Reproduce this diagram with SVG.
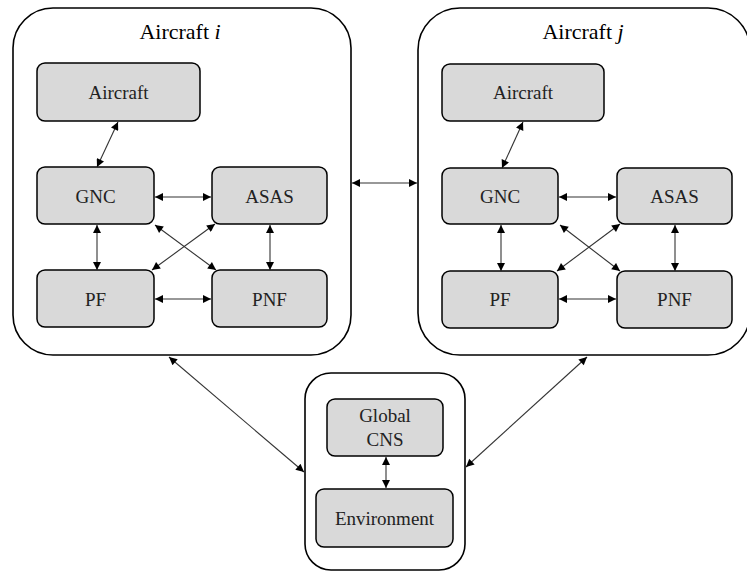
<svg xmlns="http://www.w3.org/2000/svg" width="747" height="572" viewBox="0 0 747 572">
<style>
.outer{fill:#fff;stroke:#000;stroke-width:1.6}
.box{fill:#d9d9d9;stroke:#000;stroke-width:1.5}
.lbl{font-size:19px;fill:#222;text-anchor:middle}
.ttl{font-size:22px;fill:#000;text-anchor:middle}
.c{stroke:#333;stroke-width:1.1;fill:none;marker-start:url(#ah);marker-end:url(#ah)}
</style>
<defs>
<marker id="ah" viewBox="0 0 10 10" refX="10" refY="5" markerWidth="10" markerHeight="8" markerUnits="userSpaceOnUse" orient="auto-start-reverse">
<path d="M0,0 L10,5 L0,10 z" fill="#000"/>
</marker>
</defs>
<rect width="747" height="572" fill="#fff"/>
<g font-family="'Liberation Serif', 'Times New Roman', 'DejaVu Serif', serif">
<g id="aircraft-i">
<rect class="outer" x="13" y="8" width="338" height="347" rx="40"/>
<text class="ttl" x="180" y="39">Aircraft <tspan font-style="italic">i</tspan></text>
</g>
<g id="aircraft-j">
<rect class="outer" x="418" y="8" width="332" height="347" rx="42"/>
<text class="ttl" x="583" y="39">Aircraft <tspan font-style="italic">j</tspan></text>
</g>
<g id="global">
<rect class="outer" x="305" y="373" width="160" height="197" rx="26"/>
</g>
<g id="i-aircraft"><rect class="box" x="37" y="63" width="163" height="58" rx="8"/><text class="lbl" x="118.5" y="99">Aircraft</text></g>
<g id="i-gnc"><rect class="box" x="37" y="167" width="117" height="57" rx="8"/><text class="lbl" x="95.5" y="203">GNC</text></g>
<g id="i-asas"><rect class="box" x="212" y="167" width="115" height="57" rx="8"/><text class="lbl" x="269.5" y="203">ASAS</text></g>
<g id="i-pf"><rect class="box" x="37" y="270" width="117" height="57" rx="8"/><text class="lbl" x="95.5" y="306">PF</text></g>
<g id="i-pnf"><rect class="box" x="212" y="270" width="115" height="57" rx="8"/><text class="lbl" x="269.5" y="306">PNF</text></g>
<g id="j-aircraft"><rect class="box" x="442" y="64" width="162" height="57" rx="8"/><text class="lbl" x="523" y="99">Aircraft</text></g>
<g id="j-gnc"><rect class="box" x="442" y="168" width="116" height="56" rx="8"/><text class="lbl" x="500" y="203">GNC</text></g>
<g id="j-asas"><rect class="box" x="617" y="168" width="115" height="56" rx="8"/><text class="lbl" x="674.5" y="203">ASAS</text></g>
<g id="j-pf"><rect class="box" x="442" y="271" width="116" height="57" rx="8"/><text class="lbl" x="500" y="306">PF</text></g>
<g id="j-pnf"><rect class="box" x="617" y="271" width="115" height="57" rx="8"/><text class="lbl" x="674.5" y="306">PNF</text></g>
<g id="global-cns"><rect class="box" x="327" y="399" width="116" height="57" rx="8"/><text class="lbl" x="385" y="422">Global</text><text class="lbl" x="385" y="446">CNS</text></g>
<g id="environment"><rect class="box" x="316" y="489" width="137" height="58" rx="8"/><text class="lbl" x="384.5" y="525">Environment</text></g>
</g>
<g id="connectors">
<line class="c" x1="118" y1="122" x2="97" y2="167"/>
<line class="c" x1="155" y1="197" x2="211" y2="197"/>
<line class="c" x1="97" y1="225" x2="97" y2="270"/>
<line class="c" x1="270" y1="225" x2="270" y2="270"/>
<line class="c" x1="155" y1="299" x2="211" y2="299"/>
<line class="c" x1="155" y1="225" x2="216" y2="270"/>
<line class="c" x1="215" y1="224" x2="152" y2="270"/>
<line class="c" x1="523" y1="122" x2="502" y2="168"/>
<line class="c" x1="559" y1="197" x2="616" y2="197"/>
<line class="c" x1="501" y1="225" x2="501" y2="271"/>
<line class="c" x1="675" y1="225" x2="675" y2="271"/>
<line class="c" x1="559" y1="299" x2="616" y2="299"/>
<line class="c" x1="560" y1="225" x2="620" y2="271"/>
<line class="c" x1="620" y1="224" x2="557" y2="271"/>
<line class="c" x1="352" y1="183" x2="417" y2="183"/>
<line class="c" x1="169" y1="357" x2="304" y2="472"/>
<line class="c" x1="587" y1="357" x2="466" y2="467"/>
<line class="c" x1="386" y1="457" x2="386" y2="488"/>
</g>
</svg>
